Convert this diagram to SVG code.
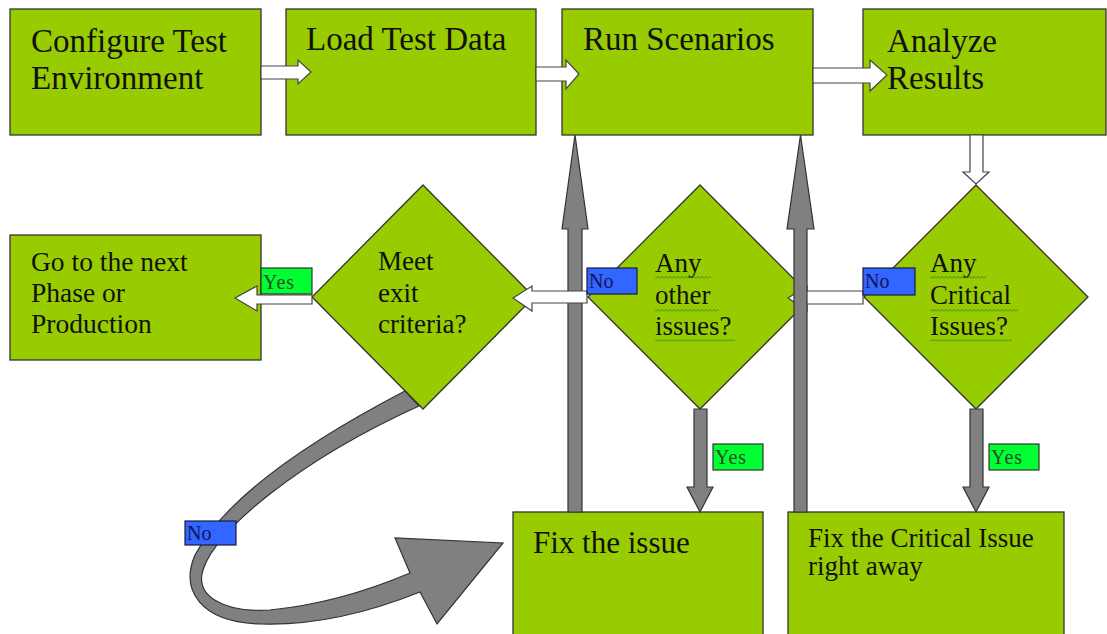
<svg xmlns="http://www.w3.org/2000/svg" width="1107" height="634" viewBox="0 0 1107 634">
<defs>
<style>
.box{fill:#99cc00;stroke:#333;stroke-width:1.3}
.t{font-family:"Liberation Serif","Times New Roman",serif;fill:#111}
.big{font-size:33px}
.mid{font-size:27px}
.wa{fill:#fff;stroke:#444;stroke-width:1.2}
.ga{fill:#808080;stroke:#333;stroke-width:1.2}
.yes{fill:#00ff33;stroke:#333;stroke-width:1.2}
.no{fill:#3366ff;stroke:#1a1a40;stroke-width:1.2}
.yt{font-family:"Liberation Serif","Times New Roman",serif;font-size:20px;fill:#2a4a2a;letter-spacing:1px}
.nt{font-family:"Liberation Serif","Times New Roman",serif;font-size:20px;fill:#14145a}
.wavy{fill:url(#wv)}
</style>
<pattern id="wv" patternUnits="userSpaceOnUse" x="0" y="0" width="4" height="3">
<path d="M0 2.5 L2 0.5 L4 2.5" fill="none" stroke="#2e8b2e" stroke-width="1"/>
</pattern>
</defs>
<rect width="1107" height="634" fill="#fff"/>

<g id="configure">
<rect class="box" x="10" y="9" width="251" height="126"/>
<text class="t big" x="31" y="52">Configure Test</text>
<text class="t big" x="31" y="89">Environment</text>
</g>
<g id="load">
<rect class="box" x="286" y="9" width="250" height="126"/>
<text class="t big" x="306" y="50">Load Test Data</text>
</g>
<g id="run">
<rect class="box" x="562" y="9" width="251" height="126"/>
<text class="t big" x="583" y="50">Run Scenarios</text>
</g>
<g id="analyze">
<rect class="box" x="863" y="9" width="243" height="126"/>
<text class="t big" x="887" y="52">Analyze</text>
<text class="t big" x="887" y="89">Results</text>
</g>
<g id="next-phase">
<rect class="box" x="10" y="235" width="251" height="125"/>
<text class="t" font-size="27.5" x="31" y="271">Go to the next</text>
<text class="t" font-size="27.5" x="31" y="302">Phase or</text>
<text class="t" font-size="27.5" x="31" y="333">Production</text>
</g>
<g id="exit-criteria">
<polygon class="box" points="423,185 534,297 423,409 312,297"/>
<text class="t mid" x="378" y="270">Meet</text>
<text class="t mid" x="378" y="302">exit</text>
<text class="t mid" x="378" y="333">criteria?</text>
</g>
<g id="other-issues">
<polygon class="box" points="700,185 812,297 700,409 588,297"/>
<text class="t mid" x="655" y="272">Any</text>
<text class="t mid" x="655" y="304">other</text>
<text class="t mid" x="655" y="335">issues?</text>
<rect class="wavy" x="655" y="276" width="56" height="3"/>
<rect class="wavy" x="655" y="309" width="64" height="3"/>
<rect class="wavy" x="655" y="339" width="80" height="3"/>
</g>
<g id="critical-issues">
<polygon class="box" points="976,185 1088,297 976,409 864,297"/>
<text class="t mid" x="930" y="272">Any</text>
<text class="t mid" x="930" y="304">Critical</text>
<text class="t mid" x="930" y="335">Issues?</text>
<rect class="wavy" x="930" y="276" width="56" height="3"/>
<rect class="wavy" x="930" y="309" width="88" height="3"/>
<rect class="wavy" x="930" y="339" width="82" height="3"/>
</g>
<g id="fix-issue">
<rect class="box" x="513" y="512" width="250" height="130"/>
<text class="t" font-size="31" x="533" y="553">Fix the issue</text>
</g>
<g id="fix-critical">
<rect class="box" x="788" y="512" width="276" height="130"/>
<text class="t" font-size="27" x="808" y="547">Fix the Critical Issue</text>
<text class="t" font-size="27" x="808" y="575">right away</text>
</g>

<g id="connectors">
<polygon class="wa" points="261,66 298,66 298,60 311,72 298,84 298,79 261,79"/>
<polygon class="wa" points="536,67 566,67 566,60 579,74 566,89 566,81 536,81"/>
<polygon class="wa" points="813,68 870,68 870,60 887,75 870,91 870,83 813,83"/>
<polygon class="wa" points="970,135 983,135 983,172 989,172 976,184 963,172 970,172"/>
<polygon class="wa" points="863,291 807,291 807,286 788,298 807,311 807,304 863,304"/>
<polygon class="ga" points="568,512 568,229 562,229 575,135 588,229 582,229 582,512"/>
<polygon class="ga" points="794,512 794,229 787,229 800.5,135 814,229 807,229 807,512"/>
<polygon class="wa" points="587,291 532,291 532,286 513,298 532,311 532,303 587,303"/>
<polygon class="wa" points="312,295 257,295 257,286 235,298 257,311 257,304 312,304"/>
<polygon class="ga" points="694,409 707,409 707,487 713,487 700,512 687,487 694,487"/>
<polygon class="ga" points="970,409 983,409 983,487 989,487 976,512 963,487 970,487"/>
<path class="ga" d="M405 391 C330 430 230 490 195 555 C180 590 200 622 260 624 C320 626 380 608 420 592 L437 624 L503 543 L395 538 L410 573 C370 590 320 605 270 610 C222 613 195 595 203 570 C215 530 300 460 419 406 Z"/>
<rect class="yes" x="261" y="268" width="51" height="26"/>
<text class="yt" x="263" y="289">Yes</text>
<rect class="no" x="587" y="268" width="50" height="26"/>
<text class="nt" x="589" y="288">No</text>
<rect class="no" x="863" y="268" width="52" height="27"/>
<text class="nt" x="865" y="288">No</text>
<rect class="yes" x="713" y="444" width="50" height="26"/>
<text class="yt" x="715" y="464">Yes</text>
<rect class="yes" x="989" y="444" width="50" height="26"/>
<text class="yt" x="991" y="464">Yes</text>
<rect class="no" x="185" y="521" width="51" height="24"/>
<text class="nt" x="187" y="540">No</text>
</g>
</svg>
